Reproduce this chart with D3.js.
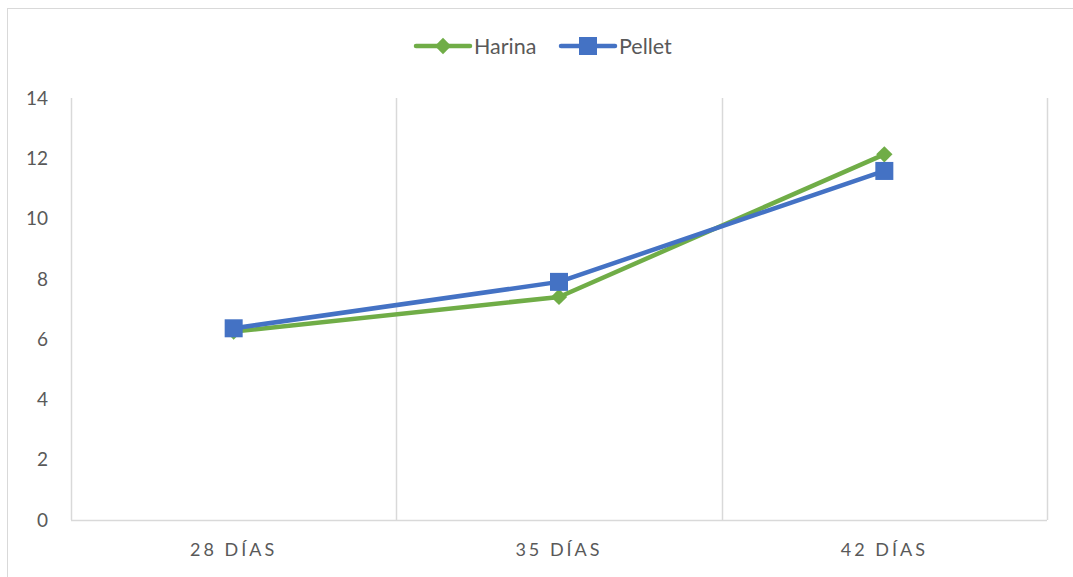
<!DOCTYPE html>
<html>
<head>
<meta charset="utf-8">
<script src="https://cdn.jsdelivr.net/npm/d3@7"></script>
<style>
  body { margin: 0; background: #fff; }
  text { font-family: Lato, "Liberation Sans", sans-serif; fill: #595959; }
</style>
</head>
<body>
<div id="chart"></div>
<script>
var categories = ["28 DÍAS", "35 DÍAS", "42 DÍAS"];
var harina = [6.25, 7.4, 12.13];
var pellet = [6.36, 7.9, 11.58];
var yTicks = [0, 2, 4, 6, 8, 10, 12, 14];

var width = 1073, height = 577;
var margin = {left: 71, right: 26, top: 98, bottom: 57};

var svg = d3.select("#chart").append("svg")
    .attr("width", width)
    .attr("height", height);

// outer frame
svg.append("rect")
    .attr("x", 7.5).attr("y", 8.5)
    .attr("width", width + 10).attr("height", height + 10)
    .attr("fill", "none")
    .attr("stroke", "#d9d9d9");

var x = d3.scaleBand().domain(categories).range([margin.left, width - margin.right]);
var y = d3.scaleLinear().domain([0, 14]).range([height - margin.bottom, margin.top]);

// vertical gridlines at category boundaries
var bounds = categories.map(function(c) { return x(c) + x.bandwidth(); });
svg.selectAll(".vgrid").data(bounds).enter().append("line")
    .attr("x1", function(d) { return Math.round(d) + 0.5; })
    .attr("x2", function(d) { return Math.round(d) + 0.5; })
    .attr("y1", y(14)).attr("y2", y(0))
    .attr("stroke", "#d9d9d9").attr("stroke-width", 1.5);

// axis lines
svg.append("line")
    .attr("x1", margin.left + 0.5).attr("x2", margin.left + 0.5)
    .attr("y1", y(14)).attr("y2", y(0))
    .attr("stroke", "#d9d9d9").attr("stroke-width", 1.5);
svg.append("line")
    .attr("x1", margin.left).attr("x2", width - margin.right)
    .attr("y1", y(0) + 0.5).attr("y2", y(0) + 0.5)
    .attr("stroke", "#d9d9d9").attr("stroke-width", 1.5);

// y labels
svg.selectAll(".ylab").data(yTicks).enter().append("text")
    .attr("x", 48)
    .attr("y", function(d) { return y(d); })
    .attr("dy", "0.35em")
    .attr("text-anchor", "end")
    .attr("font-size", 19)
    .text(function(d) { return d; });

// x labels
svg.selectAll(".xlab").data(categories).enter().append("text")
    .attr("x", function(d) { return x(d) + x.bandwidth() / 2; })
    .attr("y", 556)
    .attr("text-anchor", "middle")
    .attr("font-size", 18)
    .attr("letter-spacing", "3px")
    .text(function(d) { return d; });

var series = [
  {name: "Harina", values: harina, color: "#70ad47", marker: "diamond"},
  {name: "Pellet", values: pellet, color: "#4472c4", marker: "square"}
];

var line = d3.line()
    .x(function(d, i) { return x(categories[i]) + x.bandwidth() / 2; })
    .y(function(d) { return y(d); });

function drawMarker(g, type, cx, cy, color) {
  if (type === "diamond") {
    g.append("path")
      .attr("d", d3.symbol().type(d3.symbolDiamond2).size(170)())
      .attr("transform", "translate(" + cx + "," + cy + ")")
      .attr("fill", color);
  } else {
    g.append("rect")
      .attr("x", cx - 9).attr("y", cy - 9)
      .attr("width", 18).attr("height", 18)
      .attr("fill", color);
  }
}

series.forEach(function(s) {
  var g = svg.append("g");
  g.append("path")
    .datum(s.values)
    .attr("d", line)
    .attr("fill", "none")
    .attr("stroke", s.color)
    .attr("stroke-width", 4.5)
    .attr("stroke-linejoin", "round");
  s.values.forEach(function(v, i) {
    drawMarker(g, s.marker, x(categories[i]) + x.bandwidth() / 2, y(v), s.color);
  });
});

// legend
var legendX = [416, 561];
series.forEach(function(s, i) {
  var g = svg.append("g").attr("transform", "translate(" + legendX[i] + ",46)");
  g.append("line")
    .attr("x1", 0).attr("x2", 54).attr("y1", 0).attr("y2", 0)
    .attr("stroke", s.color).attr("stroke-width", 4.5)
    .attr("stroke-linecap", "round");
  drawMarker(g, s.marker, 27, 0, s.color);
  g.append("text")
    .attr("x", 58).attr("y", 0).attr("dy", "0.35em")
    .attr("font-size", 21.5)
    .text(s.name);
});
</script>
</body>
</html>
